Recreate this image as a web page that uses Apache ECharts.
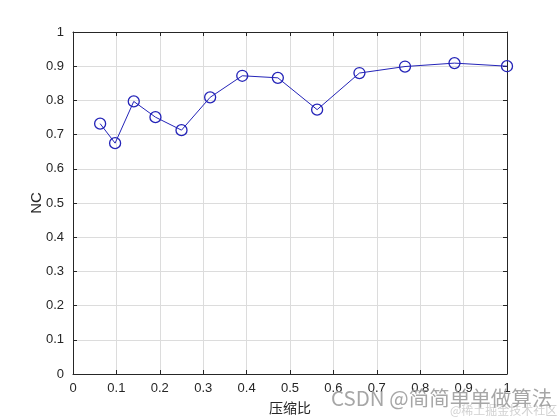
<!DOCTYPE html>
<html><head><meta charset="utf-8">
<script src="https://cdn.jsdelivr.net/npm/echarts@6/dist/echarts.min.js"></script>
<style>html,body{margin:0;padding:0;background:#fff}#c{width:560px;height:420px}</style>
</head><body><div id="c"></div>
<script>
const ratios = [0.0625, 0.097, 0.14, 0.19, 0.25, 0.316, 0.39, 0.472, 0.5625, 0.66, 0.765, 0.879, 1.0];
const ncValues = [0.732, 0.675, 0.797, 0.751, 0.713, 0.809, 0.872, 0.866, 0.773, 0.880, 0.899, 0.909, 0.900];
const xTicks = [0, 0.1, 0.2, 0.3, 0.4, 0.5, 0.6, 0.7, 0.8, 0.9, 1];
const yTicks = [0, 0.1, 0.2, 0.3, 0.4, 0.5, 0.6, 0.7, 0.8, 0.9, 1];
const xName = '压缩比';
const yName = 'NC';
const watermark = 'CSDN @简简单单做算法';
const watermark2 = '@稀土掘金技术社区';

const chart = echarts.init(document.getElementById('c'));
const font = 'Liberation Sans, Arial, sans-serif';
const fmt = v => String(Math.round(v * 10) / 10);
const axisLineStyle = {color: '#262626', width: 1};
chart.setOption({
  animation: false,
  backgroundColor: '#fff',
  grid: {left: 73, right: 53, top: 32, bottom: 46},
  xAxis: [{
    type: 'value', min: 0, max: 1, interval: 0.1,
    name: xName, nameLocation: 'middle', nameGap: 27, nameMoveOverlap: false,
    nameTextStyle: {color: '#262626', fontSize: 14, fontFamily: 'Noto Sans CJK SC'},
    axisLine: {show: true, onZero: false, lineStyle: axisLineStyle},
    axisTick: {show: true, inside: true, length: 4, lineStyle: axisLineStyle},
    axisLabel: {color: '#262626', fontSize: 13, fontFamily: font, margin: 8, formatter: fmt},
    splitLine: {show: true, lineStyle: {color: '#dcdcdc', width: 1}}
  }, {
    type: 'value', min: 0, max: 1, interval: 0.1, position: 'top',
    axisLine: {show: true, onZero: false, lineStyle: axisLineStyle},
    axisTick: {show: true, inside: true, length: 4, lineStyle: axisLineStyle},
    axisLabel: {show: false}, splitLine: {show: false}
  }],
  yAxis: [{
    type: 'value', min: 0, max: 1, interval: 0.1,
    name: yName, nameLocation: 'middle', nameGap: 29, nameRotate: 90, nameMoveOverlap: false,
    nameTextStyle: {color: '#262626', fontSize: 15, fontFamily: font},
    axisLine: {show: true, onZero: false, lineStyle: axisLineStyle},
    axisTick: {show: true, inside: true, length: 4, lineStyle: axisLineStyle},
    axisLabel: {color: '#262626', fontSize: 13, fontFamily: font, margin: 9, formatter: fmt},
    splitLine: {show: true, lineStyle: {color: '#dcdcdc', width: 1}}
  }, {
    type: 'value', min: 0, max: 1, interval: 0.1, position: 'right',
    axisLine: {show: true, onZero: false, lineStyle: axisLineStyle},
    axisTick: {show: true, inside: true, length: 4, lineStyle: axisLineStyle},
    axisLabel: {show: false}, splitLine: {show: false}
  }],
  series: [{
    type: 'line',
    data: ratios.map((r, i) => [r, ncValues[i]]),
    symbol: 'circle', symbolSize: 11,
    lineStyle: {color: '#2424b8', width: 1},
    itemStyle: {color: 'rgba(0,0,0,0)', borderColor: '#2424b8', borderWidth: 1.3},
    clip: false
  }],
  graphic: [
    {type: 'text', left: 331, top: 388, z: 100,
     style: {text: watermark, fill: 'rgba(150,150,150,0.85)', font: '20.5px "Noto Sans CJK SC"'}},
    {type: 'text', left: 450, top: 404, z: 99,
     style: {text: watermark2, fill: 'rgba(190,190,190,0.7)', font: '12px "Noto Sans CJK SC"'}}
  ]
});
</script></body></html>
